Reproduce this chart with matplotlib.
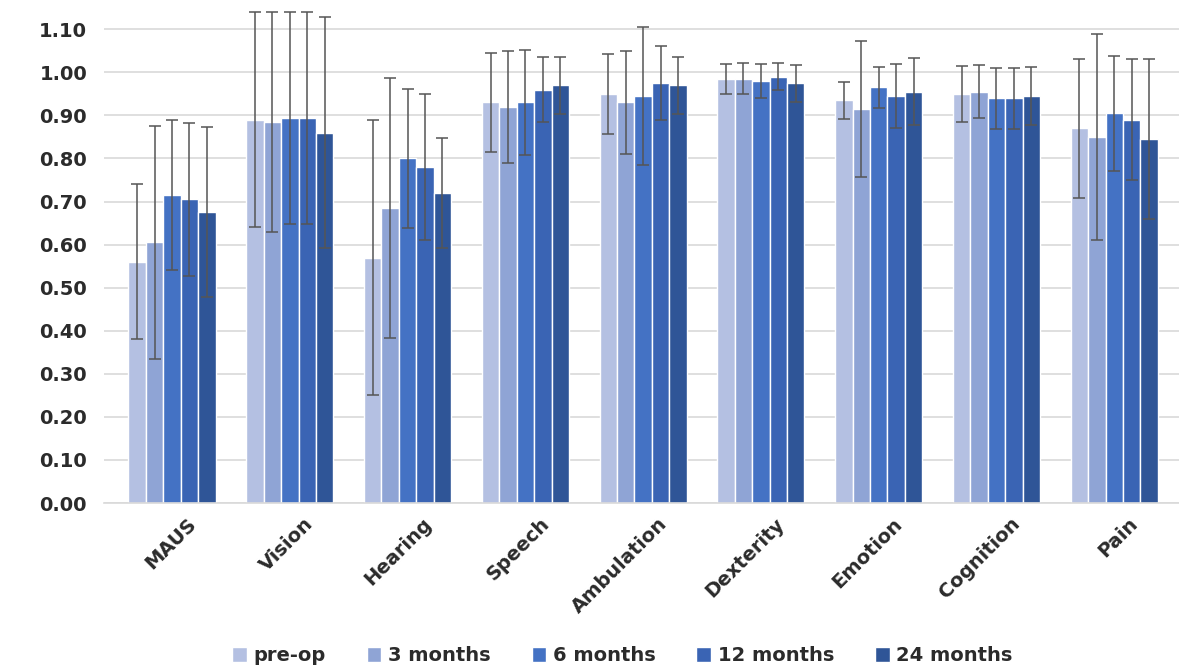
import numpy as np
import matplotlib
matplotlib.use("Agg")
import matplotlib.pyplot as plt

# domains on the x axis
domains = ["MAUS", "Vision", "Hearing", "Speech", "Ambulation",
           "Dexterity", "Emotion", "Cognition", "Pain"]
timepoints = ["pre-op", "3 months", "6 months", "12 months", "24 months"]

# means per timepoint (one value per domain)
pre_op = [0.56, 0.89, 0.57, 0.93, 0.95, 0.985, 0.935, 0.95, 0.87]
m3 = [0.605, 0.885, 0.685, 0.92, 0.93, 0.985, 0.915, 0.955, 0.85]
m6 = [0.715, 0.895, 0.80, 0.93, 0.945, 0.98, 0.965, 0.94, 0.905]
m12 = [0.705, 0.895, 0.78, 0.96, 0.975, 0.99, 0.945, 0.94, 0.89]
m24 = [0.675, 0.86, 0.72, 0.97, 0.97, 0.975, 0.955, 0.945, 0.845]

# standard deviations (error bars)
sd_pre = [0.18, 0.25, 0.32, 0.115, 0.093, 0.035, 0.043, 0.065, 0.161]
sd_3 = [0.27, 0.256, 0.303, 0.13, 0.12, 0.036, 0.157, 0.062, 0.24]
sd_6 = [0.175, 0.246, 0.162, 0.122, 0.16, 0.039, 0.047, 0.071, 0.134]
sd_12 = [0.177, 0.246, 0.17, 0.076, 0.086, 0.031, 0.075, 0.071, 0.14]
sd_24 = [0.197, 0.268, 0.128, 0.066, 0.066, 0.043, 0.078, 0.067, 0.186]

means = [pre_op, m3, m6, m12, m24]
sds = [sd_pre, sd_3, sd_6, sd_12, sd_24]
colors = ["#b4c0e2", "#8fa4d5", "#4472c4", "#3a64b4", "#2f5597"]

fig = plt.figure(figsize=(11.79, 6.68), dpi=100)
ax = fig.add_axes([0.088, 0.247, 0.912, 0.753])

x = np.arange(len(domains))
w = 0.148
for i in range(5):
    xs = x + (i - 2) * w
    ax.bar(xs, means[i], width=w, color=colors[i], edgecolor="white",
           linewidth=1.0, label=timepoints[i], zorder=2)
    ax.errorbar(xs, means[i], yerr=sds[i], fmt="none", ecolor="#555555",
                elinewidth=1.1, capsize=4, capthick=1.1, zorder=3)

ax.set_xlim(-0.58, len(domains) - 0.45)
ax.set_ylim(0, 1.168)
ax.set_yticks(np.arange(0, 1.11, 0.1))
ax.set_yticklabels(["%.2f" % v for v in np.arange(0, 1.11, 0.1)])
ax.yaxis.grid(True, color="#d9d9d9", linewidth=1.2, zorder=0)
ax.set_axisbelow(True)
for s in ["top", "right", "left"]:
    ax.spines[s].set_visible(False)
ax.spines["bottom"].set_color("#d9d9d9")
ax.spines["bottom"].set_linewidth(1.2)
ax.tick_params(axis="y", length=0, pad=12)
ax.tick_params(axis="x", length=0, pad=8)

ax.set_xticks(x + 0.12)
ax.set_xticklabels(domains, rotation=45, ha="right", rotation_mode="anchor")
for lab in ax.get_xticklabels() + ax.get_yticklabels():
    lab.set_fontsize(14)
    lab.set_fontweight("bold")
    lab.set_color("#2b2b2b")

fig.legend(loc="lower center", bbox_to_anchor=(0.528, -0.022), ncol=5,
           frameon=False, handlelength=0.75, handleheight=0.75,
           handletextpad=0.35, columnspacing=2.1,
           prop={"size": 14, "weight": "bold"}, labelcolor="#2b2b2b")

fig.savefig("out.png", dpi=100)
